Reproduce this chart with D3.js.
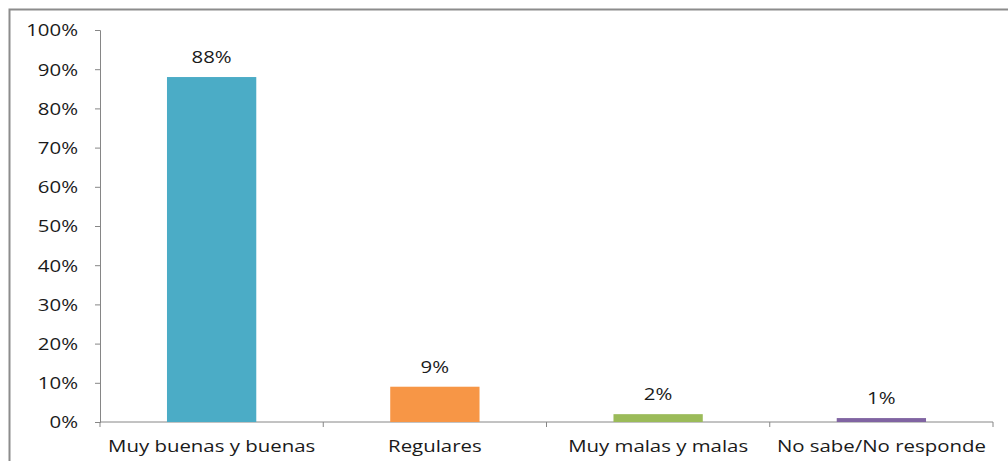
<!DOCTYPE html>
<html>
<head>
<meta charset="utf-8">
<script src="https://cdn.jsdelivr.net/npm/d3@7"></script>
<style>
  body { margin: 0; background: #fff; }
  svg { display: block; font-family: "Open Sans", sans-serif; }
</style>
</head>
<body>
<svg id="chart" width="1008" height="461"></svg>
<script>
const categories = ['Muy buenas y buenas', 'Regulares', 'Muy malas y malas', 'No sabe/No responde'];
const values = [88, 9, 2, 1];
const colors = ['#4bacc6', '#f79646', '#9bbb59', '#8064a2'];
const yTicks = [0, 10, 20, 30, 40, 50, 60, 70, 80, 90, 100];

const margin = { top: 30, right: 15, bottom: 39, left: 100 };
const width = 1008, height = 461;
const chartW = width - margin.left - margin.right;
const chartH = height - margin.top - margin.bottom;
const fontSize = 17;
const stretch = 1.2; // the source image text is wider than it is tall

const svg = d3.select('#chart');

// outer frame, runs off the right and bottom edges like the original
svg.append('rect')
  .attr('x', 9.5).attr('y', 9.5)
  .attr('width', 1010).attr('height', 470)
  .attr('fill', 'none')
  .attr('stroke', '#8c8c8c')
  .attr('stroke-width', 2);

const g = svg.append('g').attr('transform', `translate(${margin.left},${margin.top})`);

const x = d3.scaleBand()
  .domain(categories)
  .range([0, chartW])
  .paddingInner(0.6)
  .paddingOuter(0.3);

const y = d3.scaleLinear()
  .domain([0, 100])
  .range([chartH, 0]);

// places a text at (px,py) and stretches it sideways around that point
function stretched(sel, px, py) {
  sel.attr('x', 0).attr('y', 0)
    .attr('transform', function(d, i) {
      return `translate(${px(d, i)},${py(d, i)}) scale(${stretch},1)`;
    });
}

// y axis
const yAxis = g.append('g')
  .call(d3.axisLeft(y)
    .tickValues(yTicks)
    .tickSize(5)
    .tickFormat(d => d + '%'));

yAxis.select('.domain').attr('stroke', '#868686');
yAxis.selectAll('.tick line').attr('stroke', '#868686');
yAxis.selectAll('.tick text')
  .attr('font-size', fontSize)
  .attr('font-family', '"Open Sans", sans-serif')
  .attr('fill', '#1a1a1a')
  .attr('dy', '0.35em')
  .call(stretched, () => -22, () => 0);

// x axis with ticks between categories
const step = chartW / categories.length;
const xAxis = g.append('g').attr('transform', `translate(0,${chartH})`);
xAxis.append('line')
  .attr('x1', 0).attr('x2', chartW)
  .attr('stroke', '#868686');
xAxis.selectAll('.sep')
  .data(d3.range(categories.length + 1))
  .join('line')
  .attr('x1', i => i * step).attr('x2', i => i * step)
  .attr('y1', 0).attr('y2', 5)
  .attr('stroke', '#868686');
xAxis.selectAll('.lbl')
  .data(categories)
  .join('text')
  .attr('text-anchor', 'middle')
  .attr('font-size', fontSize)
  .attr('fill', '#1a1a1a')
  .text(d => d)
  .call(stretched, d => x(d) + x.bandwidth() / 2, () => 30);

// bars
g.selectAll('.bar')
  .data(values)
  .join('rect')
  .attr('x', (d, i) => x(categories[i]))
  .attr('y', d => y(d))
  .attr('width', x.bandwidth())
  .attr('height', d => chartH - y(d))
  .attr('fill', (d, i) => colors[i]);

// value labels
g.selectAll('.val')
  .data(values)
  .join('text')
  .attr('text-anchor', 'middle')
  .attr('font-size', fontSize)
  .attr('fill', '#1a1a1a')
  .text(d => d + '%')
  .call(stretched, (d, i) => x(categories[i]) + x.bandwidth() / 2, d => y(d) - 14);
</script>
</body>
</html>
